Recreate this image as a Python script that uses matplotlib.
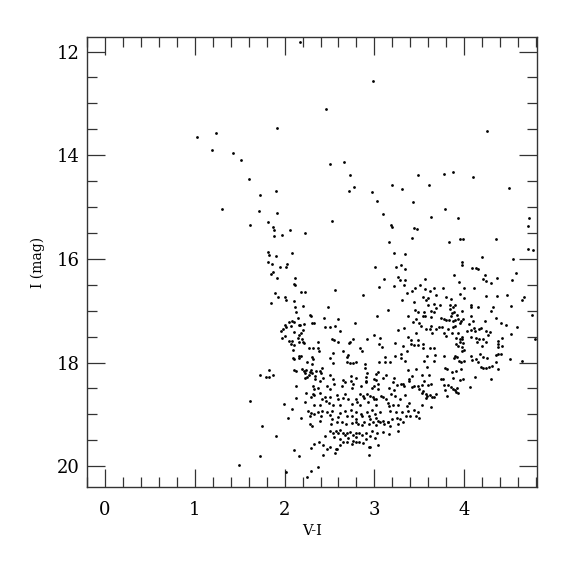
import numpy as np
import matplotlib
matplotlib.use("Agg")
import matplotlib.pyplot as plt
from matplotlib.ticker import MultipleLocator

# (V-I, I) pairs, grouped by region
bright_stars = [
    (1.02, 13.64), (1.24, 13.57), (1.19, 13.89), (1.43, 13.96), (2.17, 11.81),
    (2.98, 12.57), (2.46, 13.10), (1.92, 13.47), (1.52, 14.09), (1.60, 14.45),
    (2.51, 14.17), (2.66, 14.14), (2.73, 14.39), (2.77, 14.62), (3.20, 14.58),
    (4.25, 13.53), (3.49, 14.38), (3.78, 14.37), (3.88, 14.33), (4.10, 14.42),
    (3.31, 14.65), (3.61, 14.58), (4.50, 14.64),
]

blue_branch = [
    (1.73, 14.76), (1.90, 14.70), (1.30, 15.04), (1.71, 15.08), (1.91, 15.12),
    (1.62, 15.34), (1.81, 15.29), (1.87, 15.38), (1.88, 15.44), (2.06, 15.45),
    (1.88, 15.56), (1.97, 15.53), (1.82, 15.87), (1.83, 15.93), (1.90, 15.95),
    (2.08, 15.89), (1.81, 16.06), (1.86, 16.09), (1.95, 16.16), (2.02, 16.16),
    (2.03, 16.10), (1.87, 16.25), (1.85, 16.30), (1.92, 16.36), (2.12, 16.37),
    (2.10, 16.49), (2.12, 16.51), (1.89, 16.66), (1.93, 16.73), (2.00, 16.74),
    (1.85, 16.85), (2.02, 16.79), (2.10, 16.81), (2.12, 16.92), (2.13, 17.02),
    (2.15, 17.14), (2.05, 17.22), (2.08, 17.20), (2.11, 17.21), (2.00, 17.27),
    (2.02, 17.31), (2.07, 17.30), (2.16, 17.27), (1.98, 17.36), (1.96, 17.39),
    (2.11, 17.41), (2.16, 17.47), (2.00, 17.49), (1.97, 17.53), (2.15, 17.53),
    (2.05, 17.59), (2.08, 17.59), (2.07, 17.64), (2.10, 17.66), (2.16, 17.61),
    (2.09, 17.76), (2.16, 17.87), (2.16, 17.92), (2.09, 17.92), (2.10, 17.94),
    (1.83, 18.14), (2.10, 18.15), (2.13, 18.17), (1.73, 18.24), (1.79, 18.27),
    (1.83, 18.28), (1.87, 18.24), (2.13, 18.46), (2.13, 18.69), (1.61, 18.74),
    (1.99, 18.80), (2.08, 18.90), (2.04, 19.07), (1.75, 19.23), (1.90, 19.42),
    (2.10, 19.69), (2.16, 19.80), (1.73, 19.80), (1.49, 19.98), (2.02, 20.12),
    (2.29, 20.09), (2.37, 20.02), (2.25, 20.20), (2.94, 19.78), (2.95, 19.62),
]

middle_stars = [
    (2.72, 14.69), (2.97, 14.71), (3.03, 14.89), (3.43, 14.91), (3.09, 15.13),
    (2.53, 15.26), (3.18, 15.35), (3.20, 15.38), (3.44, 15.40), (3.47, 15.42),
    (2.23, 15.50), (3.42, 15.60), (3.16, 15.67), (3.22, 15.89), (3.34, 15.91),
    (3.30, 16.12), (3.01, 16.15), (3.24, 16.15), (3.34, 16.19), (3.26, 16.34),
    (3.29, 16.41), (3.34, 16.41), (3.11, 16.39), (3.33, 16.51), (3.22, 16.53),
    (3.05, 16.55), (3.45, 16.57), (3.42, 16.61), (2.56, 16.60), (2.18, 16.64),
    (2.23, 16.64), (2.87, 16.69), (3.36, 16.66),
]

red_upper = [
    (3.79, 15.03), (3.63, 15.19), (3.93, 15.22), (4.72, 15.21), (4.71, 15.36),
    (3.83, 15.67), (3.95, 15.62), (3.99, 15.62), (4.35, 15.61), (4.71, 15.80),
    (4.77, 15.83), (4.20, 15.97), (4.54, 16.01), (3.97, 16.06), (3.97, 16.11),
    (4.09, 16.18), (4.13, 16.18), (4.15, 16.20), (4.58, 16.27), (3.89, 16.31),
    (4.23, 16.32), (4.21, 16.38), (4.24, 16.42), (4.30, 16.46), (4.37, 16.37),
    (4.53, 16.41), (3.56, 16.39), (3.94, 16.45), (3.51, 16.50), (4.11, 16.57),
    (4.00, 16.57), (3.76, 16.56), (3.66, 16.57), (3.62, 16.62), (3.56, 16.59),
    (3.95, 16.68), (3.69, 16.69), (3.80, 16.74), (3.85, 16.77), (4.00, 16.75),
    (4.24, 16.72), (4.37, 16.71), (4.48, 16.69), (4.67, 16.73), (3.54, 16.73),
    (3.60, 16.75),
]

central_clump = [
    (2.20, 16.90), (2.48, 16.92), (3.31, 16.80), (2.28, 17.09), (2.29, 17.11),
    (2.44, 17.14), (2.59, 17.16), (3.03, 17.11), (3.15, 16.98), (3.37, 17.11),
    (2.30, 17.23), (2.33, 17.23), (2.22, 17.26), (2.17, 17.27), (2.78, 17.23),
    (2.50, 17.31), (2.45, 17.32), (2.56, 17.30), (2.20, 17.37), (2.18, 17.42),
    (2.19, 17.55), (2.62, 17.39), (3.26, 17.38), (3.33, 17.34), (2.99, 17.47),
    (3.06, 17.52), (2.53, 17.55), (2.55, 17.57), (2.59, 17.60), (2.73, 17.60),
    (2.76, 17.55), (2.92, 17.54), (3.37, 17.51), (2.21, 17.60), (2.22, 17.63),
    (2.37, 17.60), (2.32, 17.72), (2.37, 17.71), (2.38, 17.77), (2.27, 17.72),
    (2.72, 17.63), (3.05, 17.64), (3.08, 17.70), (2.84, 17.72), (2.86, 17.77),
    (2.65, 17.77), (2.54, 17.81), (3.23, 17.63), (3.32, 17.68), (3.36, 17.78),
    (2.18, 17.87), (2.30, 17.90), (2.32, 17.93), (2.25, 17.99), (2.30, 18.02),
    (2.51, 17.92), (2.54, 18.01), (2.69, 17.90), (2.69, 17.98), (2.73, 18.00),
    (2.76, 18.00), (2.79, 17.98), (2.71, 17.86), (3.05, 17.99), (3.12, 17.90),
    (3.12, 17.98), (3.17, 17.99), (3.23, 17.87), (3.30, 17.83), (3.30, 17.92),
    (3.34, 17.97), (2.90, 18.03), (2.22, 18.16), (2.24, 18.15), (2.23, 18.20),
    (2.28, 18.18), (2.35, 18.17), (2.29, 18.15), (2.42, 18.11), (2.41, 18.20),
    (2.39, 18.17), (2.27, 18.24), (2.23, 18.30), (2.25, 18.27), (2.34, 18.26),
    (2.31, 18.20), (2.19, 18.13), (2.43, 18.29), (2.51, 18.24), (2.74, 18.26),
    (2.80, 18.29), (2.90, 18.11), (2.92, 18.20), (2.91, 18.27), (3.02, 18.22),
    (3.04, 18.19), (3.13, 18.24), (3.09, 18.29), (3.37, 18.14), (3.38, 18.31),
    (3.22, 18.30), (2.34, 18.32), (2.39, 18.36), (2.32, 18.46), (2.33, 18.51),
    (2.37, 18.50), (2.47, 18.45), (2.54, 18.32), (2.55, 18.42), (2.51, 18.51),
    (2.65, 18.33), (2.64, 18.45), (2.67, 18.38), (2.74, 18.35), (2.76, 18.42),
    (2.75, 18.50), (2.85, 18.46), (2.91, 18.35), (2.91, 18.38), (2.99, 18.32),
    (3.02, 18.34), (3.00, 18.46), (3.04, 18.41), (2.97, 18.50), (3.04, 18.51),
    (3.16, 18.49), (3.21, 18.38), (3.25, 18.44), (3.22, 18.52), (3.30, 18.42),
    (3.32, 18.42), (3.33, 18.46), (3.39, 18.35), (2.24, 18.58), (2.29, 18.67),
    (2.32, 18.61), (2.33, 18.63), (2.39, 18.58), (2.42, 18.70), (2.45, 18.66),
    (2.46, 18.74), (2.49, 18.78), (2.51, 18.67), (2.58, 18.62), (2.60, 18.70),
    (2.65, 18.68), (2.67, 18.60), (2.71, 18.71), (2.79, 18.71), (2.81, 18.77),
    (2.84, 18.61), (2.87, 18.64), (2.88, 18.68), (2.92, 18.60), (2.95, 18.64),
    (2.98, 18.67), (2.99, 18.70), (3.02, 18.70), (3.07, 18.64), (3.10, 18.67),
    (3.13, 18.70), (3.15, 18.78), (3.19, 18.60), (3.23, 18.64), (3.29, 18.70),
    (3.34, 18.63), (3.38, 18.78), (2.23, 18.77), (2.33, 18.82), (2.39, 18.82),
    (2.54, 18.81), (2.62, 18.82), (2.75, 18.80), (2.84, 18.82), (2.93, 18.77),
    (3.02, 18.82), (3.16, 18.83), (3.21, 18.82), (3.26, 18.81), (3.36, 18.83),
]

lower_clump = [
    (2.26, 18.93), (2.29, 18.97), (2.33, 19.00), (2.37, 18.96), (2.42, 18.93),
    (2.47, 18.95), (2.53, 18.93), (2.62, 18.97), (2.67, 18.94), (2.74, 18.92),
    (2.79, 18.95), (2.85, 18.99), (2.92, 18.96), (2.97, 18.92), (3.01, 18.99),
    (3.06, 18.95), (3.17, 18.93), (3.24, 18.96), (3.31, 18.96), (3.37, 18.93),
    (3.44, 18.92), (3.49, 18.96), (2.28, 19.04), (2.41, 19.04), (2.51, 19.01),
    (2.53, 19.08), (2.60, 19.05), (2.69, 19.03), (2.75, 19.04), (2.80, 19.09),
    (2.86, 19.04), (2.94, 19.03), (2.95, 19.09), (3.02, 19.06), (3.04, 19.12),
    (3.10, 19.12), (3.15, 19.14), (3.20, 19.09), (3.25, 19.06), (3.29, 19.08),
    (3.35, 19.03), (3.40, 19.04), (3.46, 19.03), (3.50, 19.06), (2.18, 19.06),
    (2.28, 19.19), (2.31, 19.23), (2.39, 19.13), (2.52, 19.19), (2.58, 19.15),
    (2.64, 19.14), (2.68, 19.19), (2.75, 19.17), (2.79, 19.14), (2.82, 19.19),
    (2.86, 19.21), (2.88, 19.15), (2.94, 19.19), (2.98, 19.15), (3.02, 19.21),
    (3.06, 19.15), (3.11, 19.19), (3.15, 19.15), (3.17, 19.22), (3.26, 19.19),
    (3.32, 19.15), (2.51, 19.32), (2.54, 19.36), (2.57, 19.32), (2.60, 19.36),
    (2.62, 19.31), (2.65, 19.35), (2.67, 19.39), (2.70, 19.36), (2.73, 19.33),
    (2.76, 19.40), (2.79, 19.35), (2.83, 19.36), (2.86, 19.40), (2.91, 19.35),
    (2.97, 19.32), (3.03, 19.35), (3.09, 19.33), (3.16, 19.38), (3.26, 19.32),
    (2.45, 19.42), (2.55, 19.44), (2.62, 19.48), (2.65, 19.53), (2.71, 19.46),
    (2.76, 19.51), (2.80, 19.44), (2.83, 19.53), (2.91, 19.48), (2.95, 19.42),
    (3.01, 19.46), (2.33, 19.57), (2.38, 19.54), (2.43, 19.59), (2.51, 19.62),
    (2.57, 19.66), (2.62, 19.59), (2.69, 19.54), (2.75, 19.57), (2.79, 19.53),
    (2.87, 19.55), (2.94, 19.62), (3.04, 19.59), (2.29, 19.65), (2.58, 19.67),
    (2.47, 19.66), (2.43, 19.79), (2.56, 19.75),
]

red_clump = [
    (3.44, 16.83), (3.57, 16.80), (3.60, 16.89), (3.66, 16.87), (3.68, 16.94),
    (3.73, 16.88), (3.84, 16.88), (3.88, 16.92), (3.90, 16.89), (4.07, 16.89),
    (4.08, 16.92), (4.15, 16.93), (4.32, 16.92), (4.52, 16.91), (4.64, 16.80),
    (3.45, 16.98), (3.48, 17.02), (3.55, 17.03), (3.63, 17.00), (3.66, 17.03),
    (3.84, 16.97), (3.86, 17.05), (3.89, 17.02), (3.92, 17.09), (3.98, 17.01),
    (4.08, 17.11), (4.30, 17.00), (4.35, 17.14), (4.75, 17.08), (3.54, 17.11),
    (3.56, 17.10), (3.46, 17.16), (3.43, 17.21), (3.63, 17.13), (3.74, 17.14),
    (3.77, 17.15), (3.80, 17.18), (3.83, 17.18), (3.88, 17.20), (3.90, 17.18),
    (3.93, 17.16), (3.96, 17.20), (3.99, 17.15), (3.85, 17.11), (3.95, 17.24),
    (4.05, 17.25), (4.10, 17.19), (4.23, 17.20), (4.41, 17.23), (4.47, 17.28),
    (4.59, 17.32), (3.50, 17.24), (3.52, 17.30), (3.63, 17.29), (3.57, 17.36),
    (3.62, 17.36), (3.69, 17.35), (3.72, 17.32), (3.75, 17.32), (3.87, 17.32),
    (3.90, 17.30), (3.82, 17.36), (3.86, 17.42), (3.93, 17.43), (4.03, 17.39),
    (4.08, 17.38), (4.11, 17.33), (4.12, 17.39), (4.16, 17.36), (4.19, 17.34),
    (4.24, 17.39), (4.29, 17.41), (4.26, 17.46), (3.46, 17.42), (3.64, 17.42),
    (3.77, 17.42), (3.80, 17.48), (3.97, 17.50), (4.08, 17.50), (4.13, 17.52),
    (4.16, 17.54), (4.21, 17.55), (4.42, 17.52), (4.38, 17.59), (4.52, 17.45),
    (4.79, 17.54), (3.41, 17.57), (3.49, 17.56), (3.44, 17.66), (3.41, 17.65),
    (3.49, 17.67), (3.54, 17.64), (3.54, 17.72), (3.62, 17.72), (3.66, 17.72),
    (3.91, 17.52), (3.95, 17.54), (3.98, 17.55), (3.95, 17.60), (3.99, 17.62),
    (3.91, 17.65), (3.93, 17.68), (3.97, 17.69), (4.00, 17.75), (3.97, 17.78),
    (4.14, 17.61), (4.20, 17.68), (4.24, 17.61), (4.38, 17.64), (4.38, 17.70),
    (4.42, 17.68), (3.90, 17.87), (3.92, 17.90), (3.89, 17.92), (3.77, 17.88),
    (3.58, 17.88), (3.67, 17.86), (4.08, 17.87), (4.18, 17.84), (4.21, 17.89),
    (4.25, 17.91), (4.35, 17.86), (4.38, 17.84), (4.41, 17.83), (4.51, 17.93),
    (3.55, 17.97), (3.66, 17.97), (3.94, 17.97), (3.96, 17.98), (4.00, 17.97),
    (4.09, 17.95), (4.13, 17.93), (4.15, 17.98), (4.35, 17.99), (4.64, 17.96),
    (3.59, 18.09), (3.46, 18.13), (3.79, 18.11), (3.81, 18.13), (3.96, 18.13),
    (3.91, 18.16), (3.86, 18.18), (4.19, 18.09), (4.21, 18.10), (4.24, 18.10),
    (4.28, 18.09), (4.31, 18.06), (4.38, 18.13), (3.53, 18.24), (3.42, 18.25),
    (3.61, 18.23), (3.76, 18.31), (3.74, 18.32), (3.87, 18.29), (3.95, 18.33),
    (3.99, 18.32), (4.12, 18.27), (4.30, 18.31), (3.55, 18.36), (3.44, 18.46),
    (3.42, 18.47), (3.48, 18.46), (3.53, 18.43), (3.60, 18.43), (3.63, 18.42),
    (3.78, 18.43), (3.82, 18.43), (3.79, 18.52), (3.85, 18.47), (3.88, 18.51),
    (3.90, 18.52), (3.92, 18.49), (4.06, 18.48), (3.50, 18.51), (3.54, 18.54),
    (3.53, 18.58), (3.57, 18.60), (3.59, 18.65), (3.62, 18.63), (3.66, 18.67),
    (3.69, 18.61), (3.81, 18.64), (3.91, 18.56), (3.93, 18.58), (3.57, 18.69),
    (3.64, 18.67), (3.53, 18.82), (3.63, 18.86),
]

groups = [bright_stars, blue_branch, middle_stars, red_upper,
          central_clump, lower_clump, red_clump]
pts = np.array([p for g in groups for p in g])
v_i = pts[:, 0]
i_mag = pts[:, 1]

plt.rcParams["font.family"] = "DejaVu Serif"

fig = plt.figure(figsize=(5.75, 5.75), dpi=100)
ax = fig.add_axes([87 / 575, 88 / 575, 450 / 575, 450 / 575])

ax.plot(v_i, i_mag, "o", color="black", markersize=2.0, markeredgewidth=0)

ax.set_xlim(-0.2, 4.81)
ax.set_ylim(20.4, 11.72)

ax.xaxis.set_major_locator(MultipleLocator(1))
ax.xaxis.set_minor_locator(MultipleLocator(0.2))
ax.yaxis.set_major_locator(MultipleLocator(2))
ax.yaxis.set_minor_locator(MultipleLocator(0.5))

ax.tick_params(which="both", direction="in", top=True, right=True, width=0.9,
               color="#333333")
ax.tick_params(which="major", length=13, labelsize=13, pad=10)
ax.tick_params(which="minor", length=7)
ax.tick_params(axis="y", which="major", pad=5)

for s in ax.spines.values():
    s.set_linewidth(1.0)
    s.set_color("#333333")

ax.set_xlabel("V-I", fontsize=10.5, labelpad=4)
ax.set_ylabel("I (mag)", fontsize=10, labelpad=9)

fig.savefig("out.png", dpi=100)
